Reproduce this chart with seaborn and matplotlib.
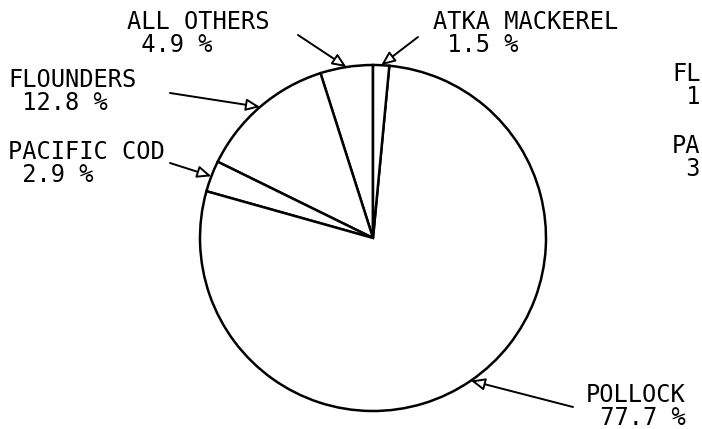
import numpy as np
import matplotlib
matplotlib.use("Agg")
import matplotlib.pyplot as plt
import seaborn as sns

# Catch composition (counterclockwise from 12 o'clock)
species = ["ALL OTHERS", "FLOUNDERS", "PACIFIC COD", "POLLOCK", "ATKA MACKEREL"]
percents = [4.9, 12.8, 2.9, 77.7, 1.5]
pct_labels = ["4.9 %", "12.8 %", "2.9 %", "77.7 %", "1.5 %"]

# Pixel layout of the scanned page (pie centre / radius, label and arrow tails)
W, H = 702, 429
CX, CY, R = 373, 238, 173
label_pos = {
    "ALL OTHERS": (127, 10),
    "FLOUNDERS": (8, 68),
    "PACIFIC COD": (8, 140),
    "POLLOCK": (586, 383),
    "ATKA MACKEREL": (433, 10),
}
arrow_tail = {
    "ALL OTHERS": (298, 35),
    "FLOUNDERS": (170, 93),
    "PACIFIC COD": (170, 163),
    "POLLOCK": (573, 407),
    "ATKA MACKEREL": (418, 37),
}


def px(x, y):
    """Pixel position on the page -> data coords (pie radius = 1)."""
    return (x - CX) / R, (CY - y) / R


sns.set_theme(style="white")
plt.rcParams["font.family"] = ["DejaVu Sans Mono", "DejaVu Sans"]

fig = plt.figure(figsize=(W / 100, H / 100), dpi=100)
ax = fig.add_axes([0, 0, 1, 1])

wedges, _ = ax.pie(percents, startangle=90, counterclock=True, radius=1,
                   center=(0, 0),
                   wedgeprops=dict(facecolor="white", edgecolor="black",
                                   linewidth=1.8))

for w, name, pct in zip(wedges, species, pct_labels):
    mid = np.deg2rad((w.theta1 + w.theta2) / 2)
    tip = (np.cos(mid), np.sin(mid))
    ax.annotate("", xy=tip, xytext=px(*arrow_tail[name]),
                arrowprops=dict(arrowstyle="-|>,head_length=0.7,head_width=0.3",
                                facecolor="white", edgecolor="black",
                                linewidth=1.4, shrinkA=0, shrinkB=0))
    ax.text(*px(*label_pos[name]), f"{name}\n {pct}", ha="left", va="top",
            fontsize=17, color="black", linespacing=0.95)

# labels of the neighbouring chart, cut off by the page edge
ax.text(*px(672, 62), "FL\n 1", ha="left", va="top",
        fontsize=17, color="black", linespacing=0.95)
ax.text(*px(672, 134), "PA\n 3", ha="left", va="top",
        fontsize=17, color="black", linespacing=0.95)

ax.set_xlim(-CX / R, (W - CX) / R)
ax.set_ylim(-(H - CY) / R, CY / R)
ax.set_aspect("equal")
ax.axis("off")

fig.savefig("out.png", dpi=100, facecolor="white")
